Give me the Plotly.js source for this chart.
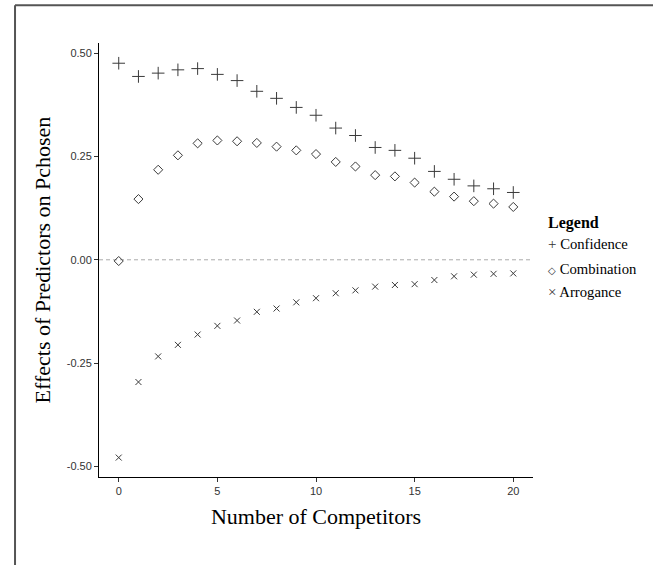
<!DOCTYPE html>
<html>
<head>
<meta charset="utf-8">
<script src="https://cdn.plot.ly/plotly-3.0.1.min.js"></script>
<style>html,body{margin:0;padding:0;background:#fff}#chart{width:653px;height:565px}</style>
</head>
<body>
<div id="chart"></div>
<script>
const competitors = [0,1,2,3,4,5,6,7,8,9,10,11,12,13,14,15,16,17,18,19,20];
const confidence = [0.476,0.444,0.452,0.460,0.463,0.449,0.434,0.408,0.391,0.369,0.350,0.319,0.301,0.272,0.265,0.246,0.214,0.195,0.179,0.172,0.163];
const combination = [-0.003,0.147,0.218,0.253,0.282,0.289,0.287,0.283,0.274,0.265,0.256,0.237,0.226,0.205,0.202,0.187,0.165,0.153,0.142,0.136,0.128];
const arrogance = [-0.479,-0.296,-0.234,-0.206,-0.181,-0.160,-0.147,-0.126,-0.118,-0.103,-0.093,-0.081,-0.074,-0.065,-0.061,-0.059,-0.049,-0.040,-0.036,-0.034,-0.033];
const seriesNames = ['Confidence', 'Combination', 'Arrogance'];
const legendGlyphs = ['+', '\u25C7', '\u00D7'];
const legendTitle = 'Legend';
const xTicks = [0,5,10,15,20];
const yTicks = [-0.5,-0.25,0,0.25,0.5];
const yTickText = ['-0.50','-0.25','0.00','0.25','0.50'];

const ink = '#3a3a3a';
const mk = (sym, size) => ({symbol: sym, size: size, color: ink, line: {color: ink, width: 1}});
const data = [
  {x: competitors, y: confidence, name: seriesNames[0], type: 'scatter', mode: 'markers', marker: mk('cross-thin-open', 9)},
  {x: competitors, y: combination, name: seriesNames[1], type: 'scatter', mode: 'markers', marker: mk('diamond-open', 7)},
  {x: competitors, y: arrogance, name: seriesNames[2], type: 'scatter', mode: 'markers', marker: mk('x-thin-open', 6)}
];

const legX = 1.03;
const legYs = [0.537, 0.480, 0.426];
const glyphSizes = [15, 10, 15];
const annotations = [
  {xref: 'paper', yref: 'paper', x: legX, y: 0.585, xanchor: 'left', yanchor: 'middle', showarrow: false,
   text: '<b>' + legendTitle + '</b>', font: {family: 'Liberation Serif', size: 16, color: '#000'}}
].concat(seriesNames.map((n, i) => ({
  xref: 'paper', yref: 'paper', x: legX, y: legYs[i], xanchor: 'left', yanchor: 'middle', showarrow: false,
  text: '<span style="font-size:' + glyphSizes[i] + 'px;color:#333">' + legendGlyphs[i] + '</span> ' + n,
  font: {family: 'Liberation Serif', size: 14.7, color: '#000'}
})));

const layout = {
  width: 653, height: 565,
  margin: {l: 99, r: 120, t: 43, b: 88, pad: 0, autoexpand: false},
  paper_bgcolor: '#fff', plot_bgcolor: '#fff',
  showlegend: false,
  xaxis: {
    range: [-1, 21], tickvals: xTicks, ticktext: xTicks.map(String),
    showgrid: false, zeroline: false, showline: true, linecolor: '#000', linewidth: 1,
    ticks: 'outside', ticklen: 4, tickcolor: '#333', tickwidth: 1,
    tickfont: {family: 'Liberation Sans', size: 11, color: '#333'},
    title: {text: 'Number of Competitors', font: {family: 'Liberation Serif', size: 22, color: '#000'}, standoff: 12},
    automargin: false
  },
  yaxis: {
    range: [-0.526, 0.525], tickvals: yTicks, ticktext: yTickText,
    showgrid: false, zeroline: false, showline: true, linecolor: '#000', linewidth: 1,
    ticks: 'outside', ticklen: 4, tickcolor: '#333', tickwidth: 1,
    tickfont: {family: 'Liberation Sans', size: 11, color: '#333'},
    title: {text: 'Effects of Predictors on Pchosen', font: {family: 'Liberation Serif', size: 22, color: '#000'}, standoff: 10},
    automargin: false
  },
  annotations: annotations,
  shapes: [
    {type: 'line', xref: 'paper', yref: 'y', x0: 0, x1: 1, y0: 0, y1: 0, line: {color: '#aaa', width: 1, dash: '4px,3px'}, layer: 'below'},
    {type: 'line', xref: 'paper', yref: 'paper', x0: -0.1935, x1: 1.45, y0: 1.087, y1: 1.087, line: {color: '#555', width: 2}},
    {type: 'line', xref: 'paper', yref: 'paper', x0: -0.1935, x1: -0.1935, y0: 1.087, y1: -0.25, line: {color: '#555', width: 2}}
  ]
};
Plotly.newPlot('chart', data, layout, {displayModeBar: false, staticPlot: true});
</script>
</body>
</html>
